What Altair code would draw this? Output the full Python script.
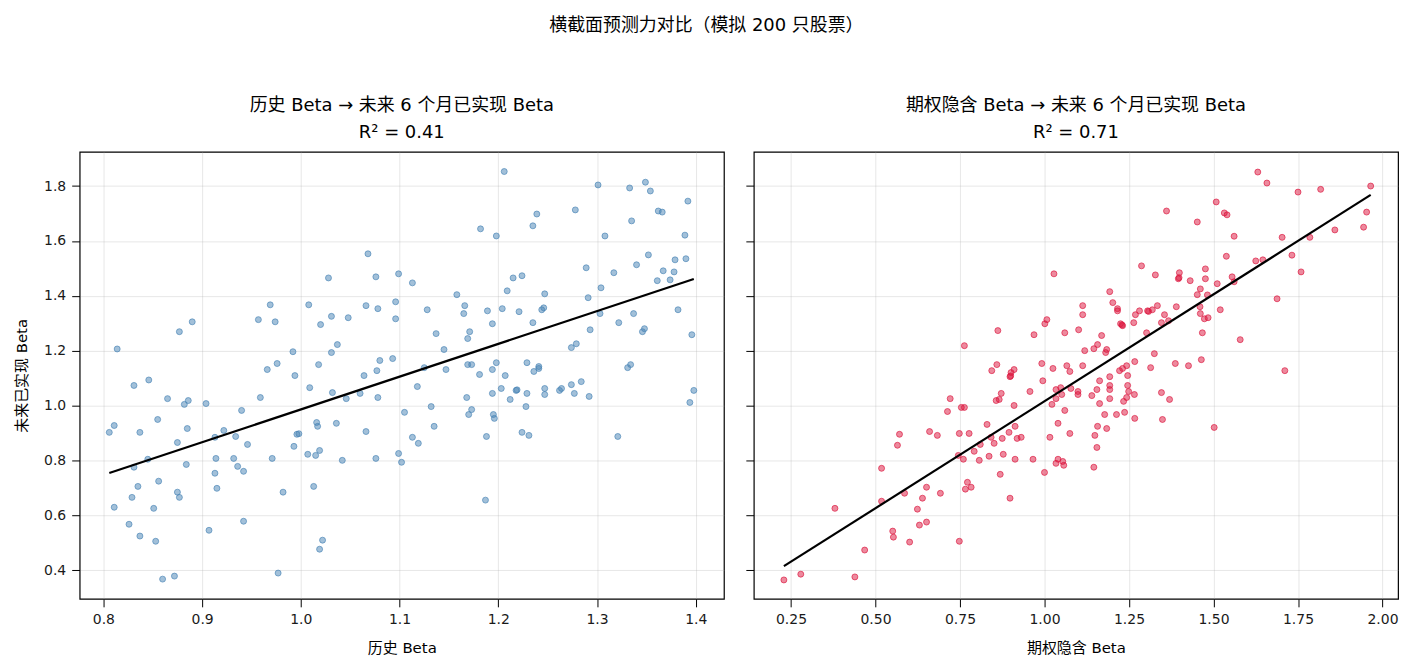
import altair as alt
import pandas as pd

# Historical beta vs. realised beta over the next 6 months
hist_beta = [
    0.814, 0.846, 0.877, 0.890, 0.957, 0.969, 0.974, 0.992, 0.976, 0.966,
    0.994, 1.008, 1.020, 1.028, 1.031, 1.048, 1.037, 1.031, 1.018, 1.068,
    1.076, 1.099, 1.066, 1.078, 1.096, 1.096, 1.093, 1.080, 1.077, 1.064,
    1.113, 1.158, 1.128, 1.166, 1.165, 1.137, 1.145, 1.171, 1.169, 1.182,
    1.198, 1.206, 1.235, 1.239, 1.215, 1.224, 1.209, 1.189, 1.204, 1.194,
    1.221, 1.247, 1.246, 1.244, 1.235, 1.278, 1.301, 1.308, 1.333, 1.349,
    1.354, 1.335, 1.362, 1.366, 1.392, 1.389, 1.289, 1.317, 1.304, 1.291,
    1.340, 1.352, 1.379, 1.390, 1.367, 1.378, 1.361, 1.374, 1.303, 1.322,
    1.337, 1.382, 1.293, 1.348, 1.346, 1.396, 1.274, 1.279, 1.125, 1.147,
    1.169, 1.173, 1.181, 1.198, 1.194, 1.207, 1.229, 1.241, 1.241, 1.236,
    1.331, 1.334, 0.831, 0.865, 0.882, 0.886, 0.904, 0.806, 0.811, 0.837,
    0.855, 0.885, 0.875, 0.845, 0.831, 0.884, 0.835, 0.856, 0.829, 0.875,
    0.877, 0.811, 0.851, 0.826, 0.837, 0.853, 0.860, 0.872, 0.922, 0.913,
    0.934, 0.940, 0.946, 0.914, 0.932, 0.936, 0.942, 0.913, 0.915, 0.907,
    0.942, 0.959, 1.009, 1.032, 1.046, 1.060, 1.078, 1.105, 1.016, 1.017,
    1.036, 0.996, 0.998, 1.066, 0.993, 1.007, 1.015, 1.019, 0.971, 1.042,
    1.076, 1.099, 1.102, 1.013, 0.982, 1.022, 1.019, 0.977, 1.118, 1.132,
    1.135, 1.113, 1.119, 1.168, 1.173, 1.170, 1.194, 1.203, 1.212, 1.218,
    1.219, 1.229, 1.228, 1.195, 1.196, 1.188, 1.224, 1.231, 1.187, 1.247,
    1.247, 1.262, 1.264, 1.274, 1.284, 1.277, 1.292, 1.321, 1.394, 1.398,
]
hist_realized = [
    1.206, 1.093, 1.269, 1.305, 1.313, 1.367, 1.305, 1.196, 1.153, 1.131,
    1.109, 1.367, 1.295, 1.465, 1.325, 1.320, 1.222, 1.193, 1.149, 1.553,
    1.469, 1.480, 1.364, 1.353, 1.378, 1.316, 1.171, 1.164, 1.127, 1.109,
    1.447, 1.404, 1.349, 1.364, 1.335, 1.262, 1.204, 1.269, 1.244, 1.644,
    1.618, 1.853, 1.655, 1.698, 1.465, 1.473, 1.418, 1.345, 1.353, 1.298,
    1.342, 1.407, 1.356, 1.349, 1.302, 1.713, 1.804, 1.618, 1.793, 1.814,
    1.782, 1.673, 1.709, 1.705, 1.745, 1.621, 1.502, 1.484, 1.429, 1.393,
    1.513, 1.549, 1.531, 1.535, 1.491, 1.487, 1.455, 1.458, 1.335, 1.302,
    1.335, 1.349, 1.276, 1.280, 1.269, 1.258, 1.211, 1.225, 1.138, 1.131,
    1.149, 1.149, 1.113, 1.156, 1.131, 1.109, 1.156, 1.142, 1.135, 1.124,
    1.138, 1.149, 1.073, 1.025, 1.004, 1.018, 1.007, 0.902, 0.927, 0.902,
    0.949, 0.916, 0.865, 0.804, 0.775, 0.785, 0.705, 0.724, 0.665, 0.684,
    0.665, 0.629, 0.625, 0.567, 0.524, 0.505, 0.367, 0.378, 0.909, 0.884,
    0.887, 0.982, 0.858, 0.807, 0.807, 0.778, 0.760, 0.753, 0.698, 0.545,
    0.578, 1.029, 1.065, 1.047, 1.025, 1.044, 1.029, 0.975, 0.938, 0.924,
    0.935, 0.895, 0.897, 0.905, 0.851, 0.822, 0.818, 0.836, 0.807, 0.800,
    0.807, 0.825, 0.793, 0.705, 0.684, 0.509, 0.476, 0.389, 1.069, 0.996,
    0.924, 0.884, 0.862, 1.029, 0.985, 0.967, 1.044, 1.062, 1.022, 1.055,
    1.057, 1.044, 0.996, 0.967, 0.953, 0.887, 0.902, 0.891, 0.655, 1.062,
    1.040, 1.055, 1.062, 1.076, 1.087, 1.044, 1.033, 0.887, 1.011, 1.055,
]

# Option-implied beta vs. realised beta over the next 6 months
implied_beta = [
    0.763, 0.862, 0.969, 1.001, 1.007, 1.028, 1.060, 0.859, 0.844, 0.910,
    0.901, 0.898, 0.900, 0.992, 1.025, 1.066, 0.995, 1.075, 1.631, 1.658,
    1.750, 1.817, 1.965, 1.953, 1.944, 1.859, 1.785, 1.703, 1.732, 1.759,
    1.688, 1.711, 1.625, 1.646, 1.508, 1.532, 1.540, 1.561, 1.538, 1.452,
    1.361, 1.476, 1.476, 1.399, 1.396, 1.398, 1.431, 1.555, 1.561, 1.511,
    1.461, 1.452, 1.482, 1.287, 1.328, 1.193, 1.202, 1.113, 1.113, 1.216,
    1.216, 1.281, 1.269, 1.305, 1.308, 1.319, 1.334, 1.390, 1.355, 1.225,
    1.231, 1.229, 1.264, 1.346, 1.367, 1.460, 1.461, 1.473, 1.484, 1.520,
    1.467, 1.579, 1.101, 1.169, 1.157, 1.146, 1.119, 1.184, 1.181, 1.302,
    1.325, 1.267, 1.243, 1.231, 1.222, 1.246, 1.193, 1.113, 1.314, 1.387,
    1.426, 1.464, 1.163, 0.957, 1.034, 1.048, 1.051, 1.034, 1.022, 1.060,
    1.040, 1.075, 1.016, 1.040, 1.034, 1.054, 1.057, 1.000, 0.721, 0.713,
    0.754, 0.763, 0.857, 0.866, 0.872, 0.910, 0.830, 0.913, 0.660, 0.683,
    0.748, 0.777, 0.571, 0.565, 0.842, 0.851, 0.875, 0.895, 0.919, 0.931,
    0.810, 0.792, 0.878, 0.745, 0.760, 0.807, 0.836, 0.913, 0.966, 0.869,
    0.518, 0.772, 0.766, 0.783, 0.651, 0.692, 0.639, 0.586, 0.518, 0.624,
    0.898, 0.380, 0.630, 0.651, 0.551, 0.553, 0.601, 0.748, 0.468, 0.279,
    0.439, 0.229, 1.078, 1.099, 1.099, 1.140, 1.155, 1.163, 1.193, 1.193,
    1.193, 1.246, 1.249, 1.266, 1.243, 1.234, 1.346, 1.370, 1.178, 1.213,
    1.237, 1.267, 1.349, 1.157, 1.184, 1.149, 1.155, 1.502, 1.146,
]
implied_realized = [
    1.218, 1.273, 1.258, 1.298, 1.313, 1.480, 1.265, 1.149, 1.127, 1.131,
    1.120, 1.105, 1.108, 1.153, 1.135, 1.145, 1.090, 1.124, 1.851, 1.811,
    1.778, 1.788, 1.800, 1.705, 1.650, 1.640, 1.613, 1.613, 1.548, 1.487,
    1.389, 1.127, 1.527, 1.531, 1.742, 1.702, 1.695, 1.617, 1.544, 1.669,
    1.709, 1.498, 1.462, 1.484, 1.462, 1.466, 1.455, 1.469, 1.451, 1.444,
    1.425, 1.404, 1.403, 1.509, 1.476, 1.415, 1.375, 1.364, 1.331, 1.353,
    1.345, 1.345, 1.331, 1.345, 1.343, 1.349, 1.364, 1.360, 1.331, 1.298,
    1.291, 1.294, 1.302, 1.302, 1.309, 1.360, 1.335, 1.316, 1.320, 1.349,
    1.265, 1.240, 1.276, 1.255, 1.222, 1.207, 1.200, 1.204, 1.193, 1.265,
    1.189, 1.160, 1.145, 1.135, 1.127, 1.109, 1.105, 1.145, 1.138, 1.153,
    1.145, 1.167, 1.090, 1.051, 1.058, 1.065, 1.040, 1.025, 1.004, 0.982,
    0.935, 0.898, 0.884, 0.804, 0.789, 0.796, 0.782, 0.756, 1.025, 0.978,
    0.993, 0.993, 1.018, 1.022, 1.044, 1.000, 0.931, 0.924, 0.905, 0.891,
    0.898, 0.898, 0.895, 0.855, 0.884, 0.862, 0.880, 0.902, 0.880, 0.884,
    0.858, 0.833, 0.822, 0.818, 0.804, 0.800, 0.815, 0.804, 0.804, 0.749,
    0.771, 0.720, 0.695, 0.702, 0.702, 0.680, 0.662, 0.680, 0.651, 0.622,
    0.662, 0.625, 0.564, 0.575, 0.542, 0.520, 0.502, 0.505, 0.473, 0.385,
    0.375, 0.364, 1.062, 1.051, 1.040, 1.036, 1.058, 1.007, 1.073, 1.058,
    1.025, 1.073, 1.051, 1.040, 1.029, 1.015, 1.047, 1.022, 0.967, 0.967,
    0.975, 0.953, 0.949, 0.924, 0.916, 0.891, 0.847, 0.920, 0.775,
]

hist_ticks = [0.8, 0.9, 1.0, 1.1, 1.2, 1.3, 1.4]
implied_ticks = [0.25, 0.50, 0.75, 1.00, 1.25, 1.50, 1.75, 2.00]
y_ticks = [0.4, 0.6, 0.8, 1.0, 1.2, 1.4, 1.6, 1.8]

# Latin glyphs from DejaVu Sans, Chinese glyphs fall back to Noto Sans CJK
FONT = "DejaVu Sans, Noto Sans CJK SC"
PANEL_W, PANEL_H = 647, 449
Y_DOMAIN = [0.295, 1.925]


def panel(xs, ys, color, title_lines, x_title, x_domain, x_ticks, x_fmt, y_labels):
    df = pd.DataFrame({"x": xs, "y": ys})
    x_enc = alt.X(
        "x:Q",
        scale=alt.Scale(domain=x_domain, nice=False, zero=False),
        axis=alt.Axis(values=x_ticks, format=x_fmt, title=x_title),
    )
    if y_labels:
        y_axis = alt.Axis(values=y_ticks, format=".1f", title="未来已实现 Beta")
    else:
        y_axis = alt.Axis(values=y_ticks, labels=False, title=None)
    y_enc = alt.Y(
        "y:Q",
        scale=alt.Scale(domain=Y_DOMAIN, nice=False, zero=False),
        axis=y_axis,
    )
    base = alt.Chart(df)
    dots = base.mark_circle(
        size=36, color=color, fillOpacity=0.5, stroke=color,
        strokeOpacity=0.65, strokeWidth=1,
    ).encode(x=x_enc, y=y_enc)
    fit = base.transform_regression("x", "y").mark_line(
        color="black", strokeWidth=2.2
    ).encode(x="x:Q", y="y:Q")
    return alt.layer(dots, fit).properties(
        width=PANEL_W,
        height=PANEL_H,
        title=alt.TitleParams(
            text=title_lines, fontSize=18, font=FONT, fontWeight="normal",
            color="black", lineHeight=27, offset=10,
        ),
    )


left = panel(
    hist_beta, hist_realized, "steelblue",
    ["历史 Beta → 未来 6 个月已实现 Beta", "R² = 0.41"],
    "历史 Beta", [0.776, 1.4285], hist_ticks, ".1f", True,
)
right = panel(
    implied_beta, implied_realized, "crimson",
    ["期权隐含 Beta → 未来 6 个月已实现 Beta", "R² = 0.71"],
    "期权隐含 Beta", [0.14, 2.046], implied_ticks, ".2f", False,
)

chart = (
    alt.hconcat(left, right, spacing=19)
    .properties(
        title=alt.TitleParams(
            text="横截面预测力对比（模拟 200 只股票）", fontSize=18, font=FONT,
            fontWeight="normal", color="black", anchor="middle", offset=62,
        ),
        padding={"left": 14, "top": 15, "right": 15, "bottom": 4},
        background="white",
    )
    .configure_view(stroke="black", strokeWidth=1.2)
    .configure_axis(
        domain=False,
        grid=True,
        gridColor="#b0b0b0",
        gridOpacity=0.3,
        gridWidth=1,
        tickColor="black",
        tickSize=8,
        tickWidth=1,
        labelFont=FONT,
        labelFontSize=14,
        labelColor="#1a1a1a",
        labelPadding=6,
        titleFont=FONT,
        titleFontSize=15,
        titleFontWeight="normal",
        titleColor="black",
        titlePadding=14,
    )
)

chart.save("out.html", embed_options={"renderer": "svg", "actions": False})
